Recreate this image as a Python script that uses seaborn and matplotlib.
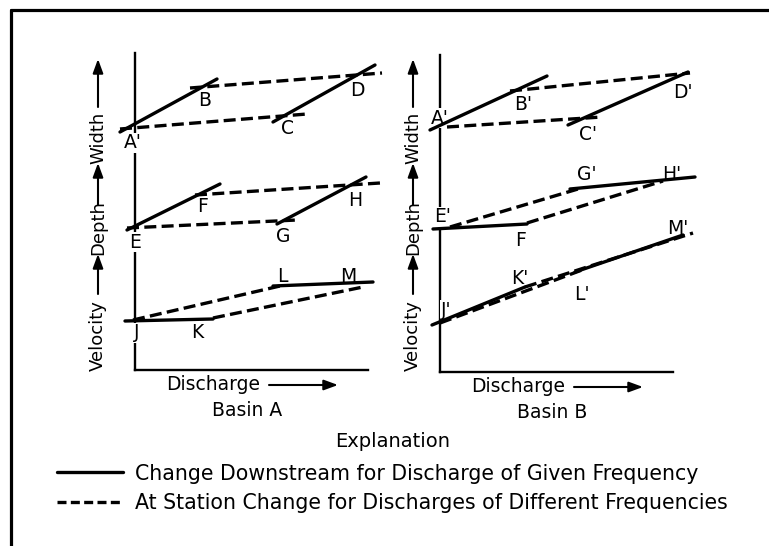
import pandas as pd
import seaborn as sns
import matplotlib.pyplot as plt
from matplotlib.lines import Line2D
from matplotlib.patches import FancyArrowPatch

# ---- data (schematic units: discharge along x, value along y) ----
# Basin A: point labels
a_names = ["A'", "B", "C", "D", "E", "F", "G", "H", "J", "K", "L", "M"]
a_lab_x = [-0.2, 7.0, 15.2, 22.2, 0.0, 6.8, 14.8, 22.0, 0.2, 6.2, 14.7, 21.3]
a_lab_y = [22.7, 27.0, 24.2, 28.0, 12.8, 16.3, 13.3, 17.0, 3.7, 3.7, 9.3, 9.3]
# Basin A: line segments (solid = downstream, dashed = at station)
a_x0 = [-1.5, 13.8, -0.8, 14.2, -1.0, 13.8, -1.5, 5.5, -0.8, 6.0, -0.2, 7.8]
a_y0 = [23.8, 24.8, 14.0, 14.6, 4.9, 8.4, 24.1, 28.2, 14.2, 17.5, 5.0, 5.2]
a_x1 = [8.2, 24.0, 8.5, 23.1, 7.8, 23.8, 17.2, 24.7, 16.2, 24.5, 14.5, 22.8]
a_y1 = [29.1, 30.5, 18.6, 19.3, 5.1, 8.8, 25.6, 29.7, 15.0, 18.7, 8.4, 8.3]
a_kind = ["downstream"] * 6 + ["station"] * 6

# Basin B: point labels
b_names = ["A'", "B'", "C'", "D'", "E'", "F", "G'", "H'", "J'", "K'", "L'", "M'"]
b_lab_x = [0.0, 8.3, 14.8, 24.3, 0.3, 8.1, 14.7, 23.2, 0.6, 8.0, 14.2, 23.8]
b_lab_y = [25.4, 26.7, 23.7, 27.9, 15.5, 13.2, 19.7, 19.7, 6.2, 9.4, 7.7, 14.4]
# Basin B: line segments
b_x0 = [-1.0, 12.8, -0.7, 13.0, -0.8, 13.5, 0.7, 7.0, 1.0, 8.7, 0.0, 8.5]
b_y0 = [24.2, 24.7, 14.3, 18.3, 4.7, 10.0, 24.5, 28.1, 14.5, 14.9, 4.9, 8.5]
b_x1 = [10.7, 24.8, 8.7, 25.5, 8.5, 24.3, 16.2, 25.0, 13.8, 22.3, 14.2, 25.3]
b_y1 = [29.6, 30.0, 14.8, 19.5, 8.5, 13.7, 25.5, 29.9, 18.3, 19.1, 10.2, 13.9]
b_kind = ["downstream"] * 6 + ["station"] * 6

legend_labels = ["Change Downstream for Discharge of Given Frequency",
                 "At Station Change for Discharges of Different Frequencies"]

W, H = 769, 546


def fx(px):
    return px / W


def fy(py):
    return 1 - py / H


def seg_frame(x0, y0, x1, y1, kind):
    rows = []
    for i in range(len(x0)):
        rows.append({"seg": i, "x": x0[i], "y": y0[i], "kind": kind[i]})
        rows.append({"seg": i, "x": x1[i], "y": y1[i], "kind": kind[i]})
    return pd.DataFrame(rows)


sns.set_style("white")
plt.rcParams["font.family"] = ["DejaVu Sans"]
plt.rcParams["text.color"] = "black"

fig = plt.figure(figsize=(7.69, 5.46), dpi=100)

panels = [
    (135, 370, a_names, a_lab_x, a_lab_y, seg_frame(a_x0, a_y0, a_x1, a_y1, a_kind), "Basin A"),
    (440, 372, b_names, b_lab_x, b_lab_y, seg_frame(b_x0, b_y0, b_x1, b_y1, b_kind), "Basin B"),
]

for ox, oy, names, lx, ly, df, title in panels:
    ax = fig.add_axes([fx(ox), fy(oy), 233 / W, 317 / H])
    sns.lineplot(data=df, x="x", y="y", units="seg", estimator=None, sort=False,
                 style="kind", style_order=["downstream", "station"],
                 dashes={"downstream": "", "station": (3.6, 1.6)},
                 color="black", linewidth=2.4, legend=False, clip_on=False,
                 zorder=4, ax=ax)
    ax.set_xlim(0, 23.3)
    ax.set_ylim(0, 31.7)
    ax.set_xticks([])
    ax.set_yticks([])
    ax.set_xlabel("")
    ax.set_ylabel("")
    for s in ["top", "right"]:
        ax.spines[s].set_visible(False)
    for s in ["left", "bottom"]:
        ax.spines[s].set_linewidth(1.7)
        ax.spines[s].set_color("black")
    for n, x, y in zip(names, lx, ly):
        ax.text(x, y, n, ha="center", va="center", fontsize=13.5, zorder=3,
                bbox=dict(boxstyle="square,pad=0.05", fc="white", ec="none"))

    # y-axis words with arrows
    tx = ox - 37 if title == "Basin A" else ox - 27
    for word, yy in [("Velocity", 336), ("Depth", 228), ("Width", 138)]:
        fig.text(fx(tx), fy(yy), word, rotation=90, ha="center", va="center", fontsize=13)
    for y0, y1 in [(294, 254), (205, 163), (107, 59)]:
        fig.add_artist(FancyArrowPatch((fx(tx), fy(y0)), (fx(tx), fy(y1)),
                                       transform=fig.transFigure, shrinkA=0, shrinkB=0,
                                       arrowstyle="-|>,head_length=0.6,head_width=0.22",
                                       mutation_scale=14, lw=1.5, color="black"))
    # x-axis word with arrow
    fig.text(fx(ox + 31), fy(oy + 15), "Discharge", ha="left", va="center", fontsize=13.5)
    fig.add_artist(FancyArrowPatch((fx(ox + 134), fy(oy + 15)), (fx(ox + 203), fy(oy + 15)),
                                   transform=fig.transFigure, shrinkA=0, shrinkB=0,
                                   arrowstyle="-|>,head_length=0.6,head_width=0.22",
                                   mutation_scale=14, lw=1.5, color="black"))
    fig.text(fx(ox + 112), fy(oy + 40), title, ha="center", va="center", fontsize=13.5)

# legend ("Explanation")
handles = [Line2D([], [], color="black", lw=2.4),
           Line2D([], [], color="black", lw=2.4, ls=(0, (2.7, 1.3)))]
leg = fig.legend(handles, legend_labels, title="Explanation", loc="upper left",
                 bbox_to_anchor=(fx(57), fy(432)), frameon=False, fontsize=14.8,
                 title_fontsize=14, handlelength=3.2, handletextpad=0.6,
                 labelspacing=0.45, borderpad=0, borderaxespad=0)
leg._legend_box.align = "center"
leg._legend_box.sep = 9

# frame lines of the original page
fig.add_artist(Line2D([fx(11), fx(11)], [0, fy(10)], transform=fig.transFigure, lw=2.3, color="black"))
fig.add_artist(Line2D([fx(11), 1], [fy(10), fy(10)], transform=fig.transFigure, lw=2.3, color="black"))

fig.savefig("out.png", dpi=100)
